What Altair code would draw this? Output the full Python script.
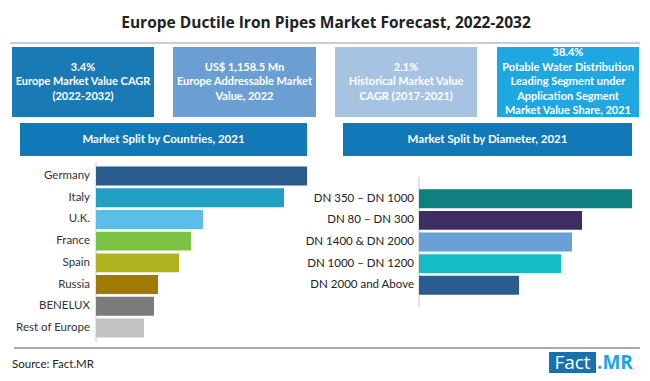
import altair as alt
import pandas as pd

# ---------------- data ----------------
title_text = "Europe Ductile Iron Pipes Market Forecast, 2022-2032"

kpi_texts = [
    ["3.4%", "Europe Market Value CAGR", "(2022-2032)"],
    ["US$ 1,158.5 Mn", "Europe Addressable Market", "Value, 2022"],
    ["2.1%", "Historical Market Value", "CAGR (2017-2021)"],
    ["38.4%", "Potable Water Distribution", "Leading Segment under", "Application Segment", "Market Value Share, 2021"],
]
kpi_colors = ["#1a7ab6", "#6b9fd3", "#a7c3e2", "#1ea7e0"]

countries_title = "Market Split by Countries, 2021"
countries = ["Germany", "Italy", "U.K.", "France", "Spain", "Russia", "BENELUX", "Rest of Europe"]
country_values = [211, 188, 107, 95, 83, 62, 58, 48]
country_colors = ["#2a5b8e", "#21a0c4", "#5bbde8", "#7cc244", "#b0b11f", "#a07a05", "#7b7b7b", "#c2c2c2"]

diam_title = "Market Split by Diameter, 2021"
diameters = ["DN 350 – DN 1000", "DN 80 – DN 300", "DN 1400 & DN 2000", "DN 1000 – DN 1200", "DN 2000 and Above"]
diam_values = [213, 163, 153, 142, 100]
diam_colors = ["#0f8080", "#3e2d63", "#6aa0d8", "#14bdc5", "#2c5b8e"]

source_text = "Source: Fact.MR"

# ---------------- helpers ----------------
one = pd.DataFrame({"k": [0]})
FONT = "Lato"
HEADER_BLUE = "#1179b8"


def rect(x, x2, y, y2, color):
    return alt.Chart(one).mark_rect(color=color).encode(
        x=alt.value(x), x2=alt.value(x2), y=alt.value(y), y2=alt.value(y2)
    )


def text(x, y, t, size, color, weight="normal", align="center", font=FONT, lh=None):
    kw = dict(align=align, baseline="middle", fontSize=size, color=color,
              fontWeight=weight, font=font)
    if lh is not None:
        kw["lineHeight"] = lh
    return alt.Chart(one).mark_text(**kw).encode(
        x=alt.value(x), y=alt.value(y), text=alt.value(t)
    )


def hline(x, x2, y, color, w=1):
    return alt.Chart(one).mark_rule(color=color, strokeWidth=w).encode(
        x=alt.value(x), x2=alt.value(x2), y=alt.value(y)
    )


def vline(x, y, y2, color, w=1):
    return alt.Chart(one).mark_rule(color=color, strokeWidth=w).encode(
        x=alt.value(x), y=alt.value(y), y2=alt.value(y2)
    )


layers = []
# title
layers.append(text(318, 15, title_text, 15.5, "#222222", weight="bold", font="Open Sans"))
layers.append(hline(2, 632, 35, "#bdbdbd", 1.5))

# KPI boxes
box_x = [(4, 146), (165, 308), (327, 469), (489, 631)]
for (x0, x1), col, lines in zip(box_x, kpi_colors, kpi_texts):
    layers.append(rect(x0, x1, 39, 109, col))
    layers.append(text((x0 + x1) / 2, 74 - (len(lines) - 1) * 14.5 / 2, lines, 11,
                       "white", weight="bold", lh=14.5))

# section headers
layers.append(rect(12, 299, 115, 148, HEADER_BLUE))
layers.append(text(155.5, 131.5, countries_title, 11.5, "white", weight="bold"))
layers.append(rect(335, 624, 115, 148, HEADER_BLUE))
layers.append(text(479.5, 131.5, diam_title, 11.5, "white", weight="bold"))

# axis lines
layers.append(vline(88, 154, 334, "#c8c8c8"))
layers.append(vline(411, 169, 299, "#c8c8c8"))

# bottom line and source
layers.append(hline(6, 632, 340, "#555555", 1))
layers.append(text(4, 357, source_text, 11.5, "#222222", align="left"))
# logo
layers.append(rect(541, 588, 344, 365, "#1a6fae"))
layers.append(text(564.5, 354.5, "Fact", 19, "white", font="Open Sans"))
layers.append(text(589, 354.5, ".MR", 19, "#1ea5de", weight="bold", align="left", font="Open Sans"))

deco = alt.layer(*layers)

# countries bars
cdf = pd.DataFrame({"country": countries, "value": country_values, "color": country_colors})
cy = alt.Y("country:N", sort=countries, axis=None,
           scale=alt.Scale(range=[154, 334], paddingInner=0.13, paddingOuter=0.21))
cbars = alt.Chart(cdf).mark_bar().encode(
    y=cy,
    x=alt.X("value:Q", axis=None, scale=alt.Scale(domain=[0, 211], range=[88, 299], nice=False)),
    color=alt.Color("color:N", scale=None),
)
clabels = alt.Chart(cdf).mark_text(align="right", baseline="middle", fontSize=11.5,
                                   font=FONT, color="#333333").encode(
    y=cy, x=alt.value(82), text="country:N"
)
cgroup = alt.layer(cbars, clabels)

# diameter bars
ddf = pd.DataFrame({"diameter": diameters, "value": diam_values, "color": diam_colors})
dy = alt.Y("diameter:N", sort=diameters, axis=None,
           scale=alt.Scale(range=[169, 299], paddingInner=0.13, paddingOuter=0.57))
dbars = alt.Chart(ddf).mark_bar().encode(
    y=dy,
    x=alt.X("value:Q", axis=None, scale=alt.Scale(domain=[0, 213], range=[411, 624], nice=False)),
    color=alt.Color("color:N", scale=None),
)
dlabels = alt.Chart(ddf).mark_text(align="right", baseline="middle", fontSize=11.5,
                                   font=FONT, color="#222222").encode(
    y=dy, x=alt.value(406), text="diameter:N"
)
dgroup = alt.layer(dbars, dlabels)

chart = alt.layer(deco, cgroup, dgroup).resolve_scale(
    x="independent", y="independent", color="independent"
).properties(
    width=634, height=365, padding=0,
    autosize=alt.AutoSizeParams(type="none"),
    background="white",
).configure_view(stroke=None)

chart.save("out.html", embed_options={"renderer": "svg", "actions": False})
